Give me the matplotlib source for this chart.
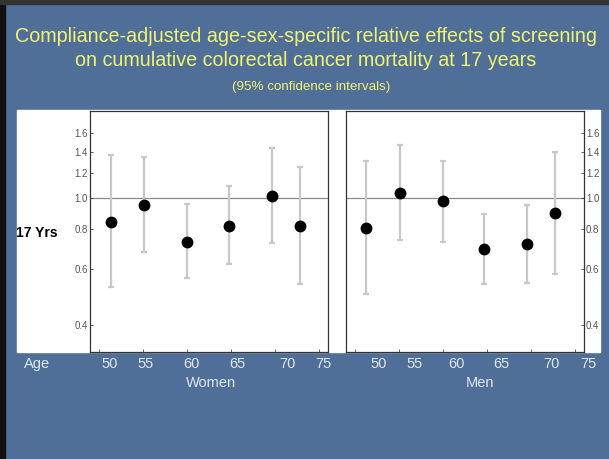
import numpy as np
import matplotlib
matplotlib.use("Agg")
import matplotlib.pyplot as plt
from matplotlib.patches import Rectangle
from matplotlib.ticker import FixedLocator, FormatStrFormatter, NullLocator

# data (relative effect, 95% CI)
women_age = [51.4, 55.1, 60.0, 64.8, 69.7, 72.8]
women_rr = [0.844, 0.950, 0.730, 0.820, 1.017, 0.820]
women_lo = [0.524, 0.676, 0.560, 0.622, 0.723, 0.538]
women_hi = [1.362, 1.347, 0.959, 1.093, 1.437, 1.252]

men_age = [51.3, 55.1, 60.0, 64.7, 69.5, 72.7]
men_rr = [0.808, 1.041, 0.978, 0.692, 0.716, 0.897]
men_lo = [0.499, 0.737, 0.730, 0.537, 0.541, 0.579]
men_hi = [1.304, 1.472, 1.311, 0.894, 0.953, 1.396]

age_ticks = [50, 55, 60, 65, 70, 75]
age_labels = ["50", "55", "60", "65", "70", "75"]
y_ticks = [0.4, 0.6, 0.8, 1.0, 1.2, 1.4, 1.6]

W, H = 609, 459
BG = "#4f6f99"
TXT = "#dfe7f0"
YEL = "#f2f272"

fig = plt.figure(figsize=(W / 100, H / 100), dpi=100, facecolor=BG)
plt.rcParams['font.family'] = ['Liberation Sans', 'DejaVu Sans']


def px(x, y):
    # pixel position (from top-left) -> figure fraction
    return x / W, 1 - y / H


# slide frame and white picture area
fig.patches.append(Rectangle((0, 0), 5 / W, 1, transform=fig.transFigure, color="#111111", zorder=-2))
fig.patches.append(Rectangle(px(0, 4), 1, 4 / H, transform=fig.transFigure, color="#333333", zorder=-2))
x0, y0 = px(17, 352)
fig.patches.append(Rectangle((x0, y0), (600 - 17) / W, (352 - 110) / H,
                             transform=fig.transFigure, color="white", zorder=-2))

# title
fig.text(*px(306, 37), "Compliance-adjusted age-sex-specific relative effects of screening",
         color=YEL, fontsize=14.2, ha="center", va="center")
fig.text(*px(306, 61), "on cumulative colorectal cancer mortality at 17 years",
         color=YEL, fontsize=14.2, ha="center", va="center")
fig.text(*px(311, 87), "(95% confidence intervals)", color=YEL, fontsize=9.6, ha="center", va="center")

fig.text(*px(16, 233), "17 Yrs", color="black", fontsize=10, fontweight="bold", ha="left", va="center")


def panel(left, ages, rr, lo, hi, right_axis):
    ax = fig.add_axes([left / W, (H - 352) / H, 238 / W, 241 / H])
    ax.set_zorder(2)
    ax.set_facecolor("white")
    ax.set_yscale("log")
    ax.set_ylim(0.328, 1.88)
    ax.set_xlim(49, 76)
    ax.axhline(1.0, color="#8a8a8a", lw=0.9, zorder=1)
    rr = np.array(rr)
    err = [rr - np.array(lo), np.array(hi) - rr]
    ax.errorbar(ages, rr, yerr=err, fmt="none", ecolor="#c8c8c8", elinewidth=1.6,
                capsize=2.5, capthick=1.6, zorder=2)
    ax.plot(ages, rr, "o", color="black", ms=7.5, zorder=3)
    ax.yaxis.set_major_locator(FixedLocator(y_ticks))
    ax.yaxis.set_minor_locator(NullLocator())
    ax.yaxis.set_major_formatter(FormatStrFormatter("%.1f"))
    ax.set_xticks(age_ticks)
    ax.set_xticklabels([])
    ax.tick_params(axis="both", direction="in", length=2, width=0.6, color="#444444",
                   labelsize=7, labelcolor="#555555", pad=1.5)
    if right_axis:
        ax.yaxis.tick_right()
    for s in ax.spines.values():
        s.set_color("#333333")
        s.set_linewidth(0.9)
    return ax


panel(90, women_age, women_rr, women_lo, women_hi, False)
panel(346, men_age, men_rr, men_lo, men_hi, True)

# slide text under the picture
label_x_women = [110, 146, 191, 237, 287, 323]
label_x_men = [379, 415, 456, 501, 551, 588]
fig.text(*px(37, 364), "Age", color=TXT, fontsize=10.5, ha="center", va="center")
for xs in (label_x_women, label_x_men):
    for x, lab in zip(xs, age_labels):
        fig.text(*px(x, 364), lab, color=TXT, fontsize=10.5, ha="center", va="center")
fig.text(*px(211, 383), "Women", color=TXT, fontsize=10.5, ha="center", va="center")
fig.text(*px(480, 383), "Men", color=TXT, fontsize=10.5, ha="center", va="center")

fig.savefig("out.png", dpi=100, facecolor=BG)
